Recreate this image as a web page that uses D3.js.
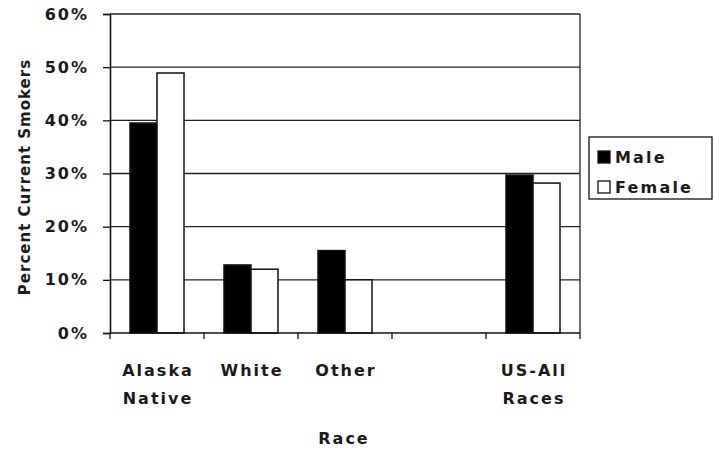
<!DOCTYPE html>
<html><head><meta charset="utf-8">
<script src="https://cdn.jsdelivr.net/npm/d3@7"></script>
<style>
body{margin:0;background:#fff;}
text{font-family:"DejaVu Sans","Liberation Sans",Arial,sans-serif;font-weight:bold;fill:#1a1a1a;}
</style></head>
<body><svg id="c" width="713" height="450"></svg>
<script>
const categories = ["Alaska Native", "White", "Other", "", "US-All Races"];
const categoryLines = [["Alaska","Native"],["White"],["Other"],[],["US-All","Races"]];
const series = ["Male", "Female"];
const maleValues = [39.5, 12.8, 15.5, null, 29.7];
const femaleValues = [48.9, 12.0, 10.0, null, 28.2];
const yTicks = [0, 10, 20, 30, 40, 50, 60];
const yTickLabels = ["0%", "10%", "20%", "30%", "40%", "50%", "60%"];
const seriesColors = ["#000000", "#ffffff"];

(function(){
const svg = d3.select("#c");
const pL = 110, pR = 580, pT = 14, pB = 333;
const FONT = "DejaVu Sans, Liberation Sans, Arial, sans-serif";
const keys = categories.map((c,i)=> c === "" ? "blank"+i : c);
const x = d3.scaleBand().domain(keys).range([pL, pR]).padding(0);
const xs = d3.scaleBand().domain(series).range([0, x.bandwidth()]).paddingInner(0).paddingOuter(0.74);
const y = d3.scaleLinear().domain([0, 60]).range([pB, pT]);

// gridlines
svg.append("g").selectAll("line").data(yTicks.filter(t=>t>0)).join("line")
  .attr("x1", pL).attr("x2", pR)
  .attr("y1", d=>y(d)).attr("y2", d=>y(d))
  .attr("stroke", "#222").attr("stroke-width", 1.3);

// bars
const rows = categories.map((c,i)=>({key: keys[i], vals: [maleValues[i], femaleValues[i]]}));
const g = svg.append("g");
rows.forEach(r=>{
  r.vals.forEach((v,j)=>{
    if (v == null) return;
    g.append("rect")
      .attr("x", x(r.key) + xs(series[j]))
      .attr("y", y(v))
      .attr("width", xs.bandwidth())
      .attr("height", y(0) - y(v))
      .attr("fill", seriesColors[j])
      .attr("stroke", "#111").attr("stroke-width", 1.5);
  });
});

// frame right
svg.append("line").attr("x1", pR).attr("x2", pR).attr("y1", pT).attr("y2", pB).attr("stroke","#222").attr("stroke-width",1.3);

// y axis
const yAxis = d3.axisLeft(y).tickValues(yTicks).tickFormat((d,i)=>yTickLabels[i]).tickSize(7).tickPadding(14);
const ya = svg.append("g").attr("transform", `translate(${pL},0)`).call(yAxis);
ya.select(".domain").attr("stroke","#111").attr("stroke-width",1.6);
ya.selectAll(".tick line").attr("stroke","#111").attr("stroke-width",1.3);
ya.selectAll(".tick text").attr("font-size", 16).attr("font-family", FONT).attr("font-weight","bold").attr("fill","#1a1a1a").attr("letter-spacing", "2px");

// x axis
const xBoundaries = d3.range(categories.length + 1).map(i => pL + i * x.step());
const xa = svg.append("g");
xa.append("line").attr("x1", pL).attr("x2", pR).attr("y1", pB).attr("y2", pB).attr("stroke","#111").attr("stroke-width",1.6);
xa.selectAll("line.t").data(xBoundaries).join("line").attr("class","t")
  .attr("x1", d=>d).attr("x2", d=>d).attr("y1", pB).attr("y2", pB+6)
  .attr("stroke","#111").attr("stroke-width",1.3);
categories.forEach((c,i)=>{
  const cx = x(keys[i]) + x.bandwidth()/2 + 1;
  const t = svg.append("text").attr("text-anchor","middle").attr("font-size",16).attr("letter-spacing","2px")
    .attr("x", cx).attr("y", 376);
  categoryLines[i].forEach((ln,k)=>{
    t.append("tspan").attr("x", cx).attr("dy", k===0?0:28).text(ln);
  });
});

// axis titles
svg.append("text").attr("x", 344).attr("y", 444).attr("text-anchor","middle").attr("font-size",16).attr("letter-spacing","2px").text("Race");
svg.append("text").attr("transform","translate(30,177) rotate(-90)").attr("text-anchor","middle").attr("font-size",15).attr("letter-spacing","1px").attr("fill","#2a2a2a").text("Percent Current Smokers");

// legend
const lg = svg.append("g");
lg.append("rect").attr("x", 589).attr("y", 137).attr("width", 123).attr("height", 62).attr("fill","#fff").attr("stroke","#111").attr("stroke-width",1.3);
series.forEach((s,i)=>{
  const yy = 151 + i*30;
  lg.append("rect").attr("x", 598).attr("y", yy).attr("width", 12).attr("height", 12)
    .attr("fill", seriesColors[i]).attr("stroke","#111").attr("stroke-width",1.3);
  lg.append("text").attr("x", 615).attr("y", yy+12).attr("font-size",16).attr("letter-spacing","2.2px").text(s);
});
})();
</script></body></html>
